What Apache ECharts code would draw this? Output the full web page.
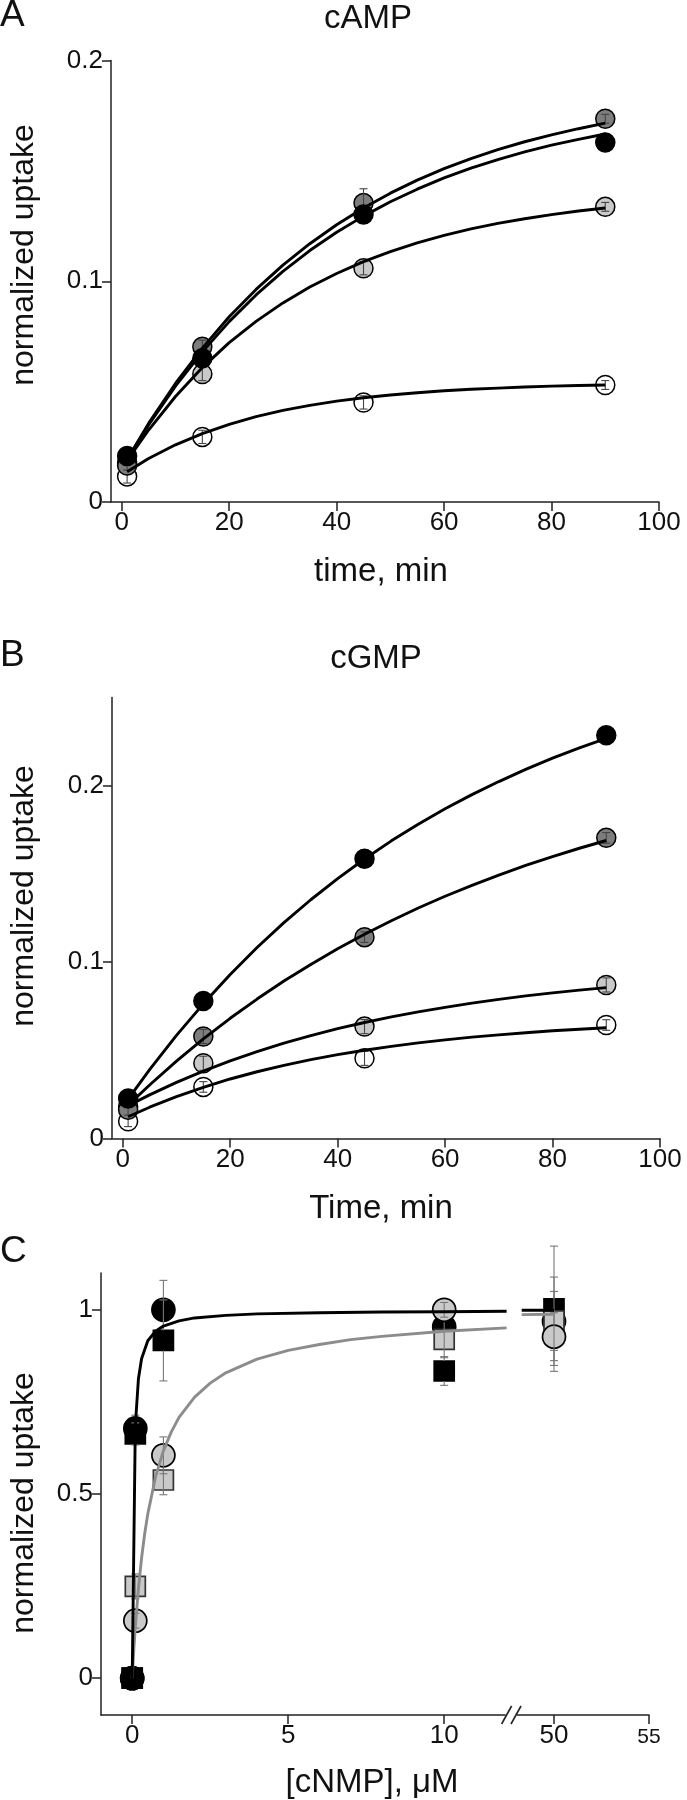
<!DOCTYPE html>
<html><head><meta charset="utf-8">
<script src="https://cdn.jsdelivr.net/npm/echarts@6/dist/echarts.min.js"></script>
<style>html,body{margin:0;padding:0;background:#fff}#c{width:687px;height:1800px}</style>
</head><body><div id="c"></div>
<script>
// ---------- Panel A: cAMP (normalized uptake vs time, min) ----------
const timePoints = [1, 15, 45, 90];
const aOpen  = [0.0116, 0.0295, 0.0451, 0.0530];
const aLight = [0.0180, 0.0580, 0.1059, 0.1337];
const aDark  = [0.0165, 0.0703, 0.1354, 0.1736];
const aBlack = [0.0208, 0.0651, 0.1302, 0.1628];
const aOpenErr  = [0.003, 0.003, 0.003, 0.002];
const aLightErr = [0.002, 0.003, 0.003, 0.002];
const aDarkErr  = [0.002, 0.003, 0.0065, 0.002];
const aBlackErr = [0.002, 0.002, 0.002, 0.002];
// fitted curves
const fitTimes = [1, 5, 10, 15, 20, 25, 30, 35, 40, 45, 50, 55, 60, 65, 70, 75, 80, 85, 90];
const aFitOpen  = [0.0137, 0.0197, 0.0259, 0.0310, 0.0352, 0.0387, 0.0415, 0.0438, 0.0457, 0.0472, 0.0485, 0.0495, 0.0504, 0.0511, 0.0516, 0.0521, 0.0525, 0.0528, 0.0530];
const aFitLight = [0.0187, 0.0326, 0.0478, 0.0609, 0.0722, 0.0818, 0.0902, 0.0974, 0.1035, 0.1089, 0.1134, 0.1174, 0.1208, 0.1237, 0.1262, 0.1283, 0.1302, 0.1318, 0.1332];
const aFitDark  = [0.0193, 0.0356, 0.0537, 0.0697, 0.0839, 0.0963, 0.1073, 0.1170, 0.1256, 0.1332, 0.1399, 0.1458, 0.1510, 0.1555, 0.1596, 0.1632, 0.1663, 0.1691, 0.1716];
const aFitBlack = [0.0192, 0.0349, 0.0525, 0.0680, 0.0817, 0.0938, 0.1045, 0.1139, 0.1222, 0.1295, 0.1360, 0.1417, 0.1468, 0.1512, 0.1551, 0.1586, 0.1617, 0.1643, 0.1667];

// ---------- Panel B: cGMP ----------
const bOpen  = [0.0098, 0.0293, 0.0455, 0.0644];
const bLight = [0.0180, 0.0427, 0.0635, 0.0871];
const bDark  = [0.0163, 0.0579, 0.1142, 0.1705];
const bBlack = [0.0228, 0.0780, 0.1586, 0.2286];
const bOpenErr  = [0.003, 0.003, 0.004, 0.003];
const bLightErr = [0.002, 0.004, 0.004, 0.004];
const bDarkErr  = [0.003, 0.004, 0.003, 0.003];
const bBlackErr = [0.002, 0.002, 0.002, 0.002];
const bFitOpen  = [0.0124, 0.0178, 0.0238, 0.0291, 0.0338, 0.0379, 0.0415, 0.0448, 0.0476, 0.0501, 0.0523, 0.0543, 0.0560, 0.0575, 0.0588, 0.0600, 0.0611, 0.0620, 0.0628];
const bFitLight = [0.0186, 0.0248, 0.0319, 0.0383, 0.0441, 0.0493, 0.0541, 0.0584, 0.0623, 0.0658, 0.0690, 0.0718, 0.0744, 0.0768, 0.0789, 0.0809, 0.0826, 0.0842, 0.0856];
const bFitDark  = [0.0190, 0.0304, 0.0439, 0.0565, 0.0682, 0.0791, 0.0893, 0.0987, 0.1076, 0.1158, 0.1235, 0.1307, 0.1374, 0.1436, 0.1494, 0.1549, 0.1599, 0.1646, 0.1690];
const bFitBlack = [0.0224, 0.0391, 0.0585, 0.0764, 0.0930, 0.1083, 0.1224, 0.1354, 0.1474, 0.1585, 0.1688, 0.1782, 0.1870, 0.1950, 0.2024, 0.2093, 0.2157, 0.2215, 0.2269];

// ---------- Panel C: uptake vs [cNMP], uM ----------
const cConc = [0, 0.1, 1, 10, 50];
const cBlackCircle = [0, 0.678, 1.000, 0.954, 0.969];
const cBlackSquare = [0, 0.663, 0.917, 0.834, 1.003];
const cGrayCircle  = [0, 0.156, 0.605, 1.000, 0.927];
const cGraySquare  = [0, 0.249, 0.538, 0.920, 0.970];
const cBlackCircleErr = [0, 0.036, 0.08, 0.03, 0.12];
const cBlackSquareErr = [0, 0.030, 0.11, 0.039, 0.17];
const cGrayCircleErr  = [0, 0.020, 0.05, 0.02, 0.065];
const cGraySquareErr  = [0, 0.034, 0.04, 0.05, 0.08];
const cFitBlackX = [0, 0.1, 0.2, 0.3, 0.5, 0.75, 1, 1.5, 2, 3, 4, 6, 8, 10, 12, 48.3, 50];
const cFitBlackY = [0, 0.685, 0.813, 0.867, 0.916, 0.942, 0.956, 0.970, 0.978, 0.985, 0.989, 0.992, 0.994, 0.995, 0.996, 0.999, 0.999];
const cFitGrayX = [0, 0.05, 0.1, 0.2, 0.3, 0.4, 0.5, 0.75, 1, 1.25, 1.5, 2, 2.5, 3, 4, 5, 6, 7, 8, 10, 12, 48.3, 50];
const cFitGrayY = [0, 0.075, 0.139, 0.244, 0.326, 0.392, 0.446, 0.547, 0.617, 0.668, 0.708, 0.763, 0.801, 0.829, 0.866, 0.890, 0.906, 0.919, 0.928, 0.942, 0.951, 0.987, 0.988];

// tick labels
const timeTicks = [0, 20, 40, 60, 80, 100];
const aYTicks = [0, 0.1, 0.2];
const bYTicks = [0, 0.1, 0.2];
const cYTicks = [0, 0.5, 1];
const cXTicksLeft = [0, 5, 10];
const cXTicksRight = [50, 55];

const FONT = "'Liberation Sans', Arial, Helvetica, sans-serif";
const AX = '#222';
const DARK = '#7d7d7d', LIGHT = '#c9c9c9', GRAYLINE = '#8c8c8c';
const TICKFS = 26;

const chart = echarts.init(document.getElementById('c'));

function xAxisDef(gi, min, max, ticks, extra) {
  return Object.assign({
    gridIndex: gi, type: 'value', min: min, max: max,
    axisLine: {show: true, onZero: false, lineStyle: {color: AX, width: 1.5}},
    axisTick: {show: true, length: 9, customValues: ticks, lineStyle: {color: AX, width: 1.5}},
    axisLabel: {customValues: ticks, fontSize: TICKFS, color: '#111', margin: 8, fontFamily: FONT},
    splitLine: {show: false}
  }, extra || {});
}
function yAxisDef(gi, min, max, ticks, show) {
  return {
    gridIndex: gi, type: 'value', min: min, max: max, show: show !== false,
    axisLine: {show: true, onZero: false, lineStyle: {color: AX, width: 1.5}},
    axisTick: {show: true, length: 9, customValues: ticks, lineStyle: {color: AX, width: 1.5}},
    axisLabel: {customValues: ticks, fontSize: TICKFS, color: '#111', margin: 8, fontFamily: FONT,
                formatter: v => String(v)},
    splitLine: {show: false}
  };
}

function errRender(gap, capW, color) {
  return function (params, api) {
    const x = api.value(0), y = api.value(1), lo = api.value(2), hi = api.value(3);
    const pc = api.coord([x, y]), pl = api.coord([x, lo]), ph = api.coord([x, hi]);
    const ch = [];
    const st = {stroke: color, lineWidth: 1.1};
    const X = pc[0];
    if (gap > 0) {
      if (ph[1] < pc[1] - gap) {
        ch.push({type: 'line', shape: {x1: X, y1: ph[1], x2: X, y2: pc[1] - gap}, style: st});
        ch.push({type: 'line', shape: {x1: X - capW, y1: ph[1], x2: X + capW, y2: ph[1]}, style: st});
      }
      if (pl[1] > pc[1] + gap) {
        ch.push({type: 'line', shape: {x1: X, y1: pc[1] + gap, x2: X, y2: pl[1]}, style: st});
        ch.push({type: 'line', shape: {x1: X - capW, y1: pl[1], x2: X + capW, y2: pl[1]}, style: st});
      }
    } else {
      ch.push({type: 'line', shape: {x1: X, y1: ph[1], x2: X, y2: pl[1]}, style: st});
      ch.push({type: 'line', shape: {x1: X - capW, y1: ph[1], x2: X + capW, y2: ph[1]}, style: st});
      ch.push({type: 'line', shape: {x1: X - capW, y1: pl[1], x2: X + capW, y2: pl[1]}, style: st});
    }
    return {type: 'group', children: ch};
  };
}

const series = [];
function addTimePanel(gi, sets) {
  let z = 2;
  sets.forEach(s => {
    series.push({
      type: 'scatter', xAxisIndex: gi, yAxisIndex: gi, z: z++,
      symbol: 'circle', symbolSize: 19,
      itemStyle: {color: s.fill, borderColor: '#000', borderWidth: 1.5, opacity: 1},
      data: timePoints.map((t, i) => [t, s.vals[i]])
    });
    series.push({
      type: 'custom', xAxisIndex: gi, yAxisIndex: gi, z: z++,
      renderItem: errRender(s.gap, 4, '#444'),
      data: timePoints.map((t, i) => [t, s.vals[i], s.vals[i] - s.err[i], s.vals[i] + s.err[i]])
    });
  });
  sets.forEach(s => {
    series.push({
      type: 'line', xAxisIndex: gi, yAxisIndex: gi, z: 40, showSymbol: false, symbol: 'none',
      smooth: false,
      lineStyle: {color: '#000', width: 2.9, join: 'round'},
      data: fitTimes.map((t, i) => [t, s.fit[i]])
    });
  });
}
addTimePanel(0, [
  {fill: '#fff', vals: aOpen, err: aOpenErr, fit: aFitOpen, gap: 0},
  {fill: LIGHT, vals: aLight, err: aLightErr, fit: aFitLight, gap: 0},
  {fill: DARK, vals: aDark, err: aDarkErr, fit: aFitDark, gap: 0},
  {fill: '#000', vals: aBlack, err: aBlackErr, fit: aFitBlack, gap: 10}
]);
addTimePanel(1, [
  {fill: '#fff', vals: bOpen, err: bOpenErr, fit: bFitOpen, gap: 0},
  {fill: LIGHT, vals: bLight, err: bLightErr, fit: bFitLight, gap: 0},
  {fill: DARK, vals: bDark, err: bDarkErr, fit: bFitDark, gap: 0},
  {fill: '#000', vals: bBlack, err: bBlackErr, fit: bFitBlack, gap: 10}
]);

// Panel C: split each series into the left (0-12) and right (48-55) axis segments;
// the zero-concentration points are stacked with the black markers in front.
function seg(x) { return x <= 12 ? 2 : 3; }
const cSets = [
  {vals: cBlackCircle, err: cBlackCircleErr, symbol: 'circle', size: 23, fill: '#000', border: '#000', gap: 11, zZero: 4},
  {vals: cBlackSquare, err: cBlackSquareErr, symbol: 'rect', size: 20, fill: '#000', border: '#000', gap: 10, zZero: 5},
  {vals: cGraySquare, err: cGraySquareErr, symbol: 'rect', size: 20, fill: LIGHT, border: '#333', gap: 0, zZero: 3},
  {vals: cGrayCircle, err: cGrayCircleErr, symbol: 'circle', size: 23, fill: LIGHT, border: '#000', gap: 0, zZero: 2}
];
let zc = 10;
cSets.forEach(s => {
  const style = {color: s.fill, borderColor: s.border, borderWidth: 1.7, opacity: 1};
  [2, 3].forEach(gi => {
    const idx = cConc.map((x, i) => i).filter(i => seg(cConc[i]) === gi);
    series.push({
      type: 'scatter', xAxisIndex: gi, yAxisIndex: gi, z: zc,
      symbol: s.symbol, symbolSize: s.size, itemStyle: style,
      data: idx.filter(i => cConc[i] !== 0).map(i => [cConc[i], s.vals[i]])
    });
    series.push({
      type: 'custom', xAxisIndex: gi, yAxisIndex: gi, z: zc + 1,
      renderItem: errRender(s.gap, 4, '#777'),
      data: idx.filter(i => s.err[i] > 0).map(i => [cConc[i], s.vals[i], s.vals[i] - s.err[i], s.vals[i] + s.err[i]])
    });
  });
  series.push({
    type: 'scatter', xAxisIndex: 2, yAxisIndex: 2, z: s.zZero,
    symbol: s.symbol, symbolSize: s.size, itemStyle: style,
    data: cConc.map((x, i) => i).filter(i => cConc[i] === 0).map(i => [cConc[i], s.vals[i]])
  });
  zc += 2;
});
[[cFitGrayX, cFitGrayY, GRAYLINE], [cFitBlackX, cFitBlackY, '#000']].forEach(([xs, ys, col]) => {
  [2, 3].forEach(gi => {
    series.push({
      type: 'line', xAxisIndex: gi, yAxisIndex: gi, z: 40, showSymbol: false, symbol: 'none',
      lineStyle: {color: col, width: 2.9, join: 'round'},
      data: xs.map((x, i) => [x, ys[i]]).filter(p => seg(p[0]) === gi)
    });
  });
});

function txt(id, text, x, y, size, rot, align) {
  return {id: id, type: 'text', x: x, y: y, rotation: rot || 0, z: 100,
    style: {text: text, font: 'normal ' + size + 'px ' + FONT, fill: '#111', textAlign: align || 'center', textVerticalAlign: 'middle'}};
}

chart.setOption({
  animation: false,
  backgroundColor: '#fff',
  grid: [
    {left: 111, top: 60.5, width: 548, height: 441.5},
    {left: 112, top: 697.6, width: 548, height: 441},
    {left: 101, top: 1273, width: 405.6, height: 442},
    {left: 516, top: 1273, width: 133, height: 442}
  ],
  xAxis: [
    xAxisDef(0, -2, 100, timeTicks),
    xAxisDef(1, -2, 100, timeTicks),
    xAxisDef(2, -1, 12, cXTicksLeft),
    xAxisDef(3, 48, 55, cXTicksRight, {axisLabel: {customValues: cXTicksRight, fontSize: TICKFS, color: '#111', margin: 8, fontFamily: FONT,
      formatter: v => v === 55 ? '{s|55}' : String(v), rich: {s: {fontSize: 21, fontFamily: FONT, color: '#111', padding: [4, 0, 0, 0]}}}})
  ],
  yAxis: [
    yAxisDef(0, 0, 0.2, aYTicks),
    yAxisDef(1, 0, 0.25, bYTicks),
    yAxisDef(2, -0.1, 1.1, cYTicks),
    yAxisDef(3, -0.1, 1.1, cYTicks, false)
  ],
  series: series,
  graphic: [
    txt('tA', 'A', 0, 16, 37, 0, 'left'),
    txt('tAt', 'cAMP', 368, 19, 33),
    txt('tAy', 'normalized uptake', 24, 255, 32, Math.PI / 2),
    txt('tAx', 'time, min', 381, 572, 33),
    txt('tB', 'B', 0, 656, 37, 0, 'left'),
    txt('tBt', 'cGMP', 376, 659, 33),
    txt('tBy', 'normalized uptake', 24, 896, 32, Math.PI / 2),
    txt('tBx', 'Time, min', 381, 1209, 33),
    txt('tC', 'C', 0, 1252, 37, 0, 'left'),
    txt('tCy', 'normalized uptake', 24, 1503, 32, Math.PI / 2),
    txt('tCx', '[cNMP], \u03BCM', 372, 1783, 33)
  ]
});

// axis-break marks "//" placed at the ends of the two x-axis segments of panel C
const pL = chart.convertToPixel({xAxisIndex: 2, yAxisIndex: 2}, [12, -0.1]);
const pR = chart.convertToPixel({xAxisIndex: 3, yAxisIndex: 3}, [48, -0.1]);
const slash = (id, cx, cy) => ({id: id, type: 'line', z: 100, shape: {x1: cx - 5, y1: cy + 9, x2: cx + 5, y2: cy - 9}, style: {stroke: AX, lineWidth: 1.6}});
chart.setOption({graphic: [
  {id: 'brkGap', type: 'rect', z: 99, shape: {x: pL[0] - 1, y: pL[1] - 3, width: pR[0] - pL[0] + 2, height: 6}, style: {fill: '#fff'}},
  slash('brk1', pL[0], pL[1]), slash('brk2', pR[0], pR[1])
]});
</script>
</body></html>
